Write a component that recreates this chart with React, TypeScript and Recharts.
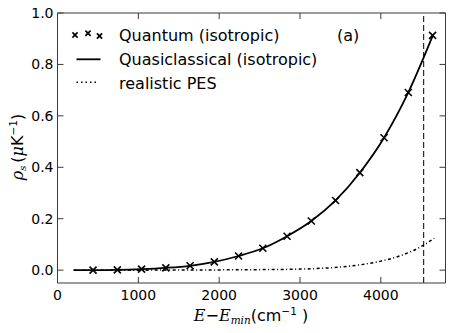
import React from 'react';
import { ComposedChart, Line, Scatter, XAxis, YAxis, ReferenceLine } from 'recharts';

const quantumE = [440, 740, 1040, 1340, 1640, 1940, 2240, 2540, 2840, 3140, 3440, 3740, 4040, 4340, 4640];
const quantumRho = [0.0, 0.001, 0.004, 0.009, 0.017, 0.032, 0.055, 0.085, 0.132, 0.191, 0.271, 0.379, 0.515, 0.691, 0.913];

const classicalE = [200, 440, 740, 1040, 1340, 1640, 1940, 2240, 2540, 2840, 3140, 3440, 3740, 4040, 4340, 4640];
const classicalRho = [0.0, 0.0, 0.001, 0.004, 0.009, 0.017, 0.032, 0.055, 0.085, 0.132, 0.191, 0.271, 0.379, 0.515, 0.691, 0.91];

const pesE = [200, 1000, 1500, 2000, 2500, 3000, 3250, 3500, 3750, 4000, 4250, 4500, 4660];
const pesRho = [0.0, 0.0, 0.0005, 0.001, 0.002, 0.004, 0.007, 0.012, 0.021, 0.035, 0.057, 0.092, 0.124];

const xTicks = [0, 1000, 2000, 3000, 4000];
const yTicks = [0.0, 0.2, 0.4, 0.6, 0.8, 1.0];
const xDomain = [0, 4800];
const yDomain = [-0.05, 1.0];
const thresholdE = 4530;

const legendLabels = ['Quantum (isotropic)', 'Quasiclassical (isotropic)', 'realistic PES'];
const panelLabel = '(a)';

const quantumData = quantumE.map((e, i) => ({ e, rho: quantumRho[i] }));
const classicalData = classicalE.map((e, i) => ({ e, rho: classicalRho[i] }));
const pesData = pesE.map((e, i) => ({ e, rho: pesRho[i] }));

const FONT = '"DejaVu Sans", sans-serif';
const SERIF = '"DejaVu Serif", serif';
const AXIS = '#3a3a3a';

const MARGIN = { top: 13, right: 5.5, bottom: 0, left: 0 };
const CHART_W = 451;
const CHART_H = 333;
const Y_AXIS_W = 57.5;
const X_AXIS_H = 50;

// plot area derived from the layout constants above
const PX0 = MARGIN.left + Y_AXIS_W;
const PY0 = MARGIN.top;
const PW = CHART_W - MARGIN.left - MARGIN.right - Y_AXIS_W;
const PH = CHART_H - MARGIN.top - MARGIN.bottom - X_AXIS_H;
const sx = (v: number) => PX0 + ((v - xDomain[0]) / (xDomain[1] - xDomain[0])) * PW;
const sy = (v: number) => PY0 + PH - ((v - yDomain[0]) / (yDomain[1] - yDomain[0])) * PH;

const XMark = (props: any) => {
  const { cx, cy } = props;
  if (cx == null || cy == null) return null;
  const s = 3.5;
  return (
    <g stroke="#000" strokeWidth={1.6}>
      <line x1={cx - s} y1={cy - s} x2={cx + s} y2={cy + s} />
      <line x1={cx - s} y1={cy + s} x2={cx + s} y2={cy - s} />
    </g>
  );
};

const smallX = (x: number, y: number, key: string) => {
  const s = 2.6;
  return (
    <g key={key} stroke="#000" strokeWidth={1.7}>
      <line x1={x - s} y1={y - s} x2={x + s} y2={y + s} />
      <line x1={x - s} y1={y + s} x2={x + s} y2={y - s} />
    </g>
  );
};

export default function App() {
  return (
    <div style={{ position: 'absolute', left: 0, top: 0, width: CHART_W, height: CHART_H, background: '#fff' }}>
      <ComposedChart width={CHART_W} height={CHART_H} margin={MARGIN}>
        <XAxis
          xAxisId="b"
          type="number"
          dataKey="e"
          domain={xDomain}
          ticks={xTicks}
          allowDataOverflow
          height={X_AXIS_H}
          stroke={AXIS}
          tickSize={-6}
          tickMargin={13}
          tick={{ fill: '#000', fontSize: 14, fontFamily: FONT }}
          axisLine={{ stroke: AXIS, strokeWidth: 1 }}
          tickLine={{ stroke: AXIS }}
        />
        <YAxis
          yAxisId="l"
          type="number"
          domain={yDomain}
          ticks={yTicks}
          allowDataOverflow
          width={Y_AXIS_W}
          stroke={AXIS}
          tickSize={-6}
          tickMargin={10}
          tickFormatter={(v: number) => v.toFixed(1)}
          tick={{ fill: '#000', fontSize: 14, fontFamily: FONT }}
          axisLine={{ stroke: AXIS, strokeWidth: 1 }}
          tickLine={{ stroke: AXIS }}
        />
        <ReferenceLine
          xAxisId="b"
          yAxisId="l"
          x={thresholdE}
          stroke="#000"
          strokeWidth={1}
          strokeDasharray="6 3"
        />
        <Line
          xAxisId="b"
          yAxisId="l"
          data={pesData}
          dataKey="rho"
          type="monotone"
          stroke="#000"
          strokeWidth={1.5}
          strokeDasharray="3 2.5 1 2.5"
          dot={false}
          isAnimationActive={false}
        />
        <Line
          xAxisId="b"
          yAxisId="l"
          data={classicalData}
          dataKey="rho"
          type="monotone"
          stroke="#000"
          strokeWidth={1.8}
          dot={false}
          isAnimationActive={false}
        />
        <Scatter
          xAxisId="b"
          yAxisId="l"
          data={quantumData}
          dataKey="rho"
          shape={XMark}
          isAnimationActive={false}
        />
        <g>
          <g stroke={AXIS} strokeWidth={1} fill="none">
            <line x1={PX0} y1={PY0} x2={PX0 + PW} y2={PY0} />
            <line x1={PX0 + PW} y1={PY0} x2={PX0 + PW} y2={PY0 + PH} />
            {xTicks.map((t) => (
              <line key={`tx${t}`} x1={sx(t)} y1={PY0} x2={sx(t)} y2={PY0 + 6} />
            ))}
            {yTicks.map((t) => (
              <line key={`ty${t}`} x1={PX0 + PW} y1={sy(t)} x2={PX0 + PW - 6} y2={sy(t)} />
            ))}
          </g>
          {smallX(75, 35, 'a')}
          {smallX(88, 33.3, 'b')}
          {smallX(99.5, 36, 'c')}
          <line x1={76.5} y1={59.3} x2={100.5} y2={59.3} stroke="#000" strokeWidth={1.8} />
          <line x1={76.5} y1={82.3} x2={96} y2={82.3} stroke="#000" strokeWidth={1.5} strokeDasharray="1.5 3" />
          <text x={119} y={40.5} fontSize={16} fontFamily={FONT} fill="#000">{legendLabels[0]}</text>
          <text x={119} y={65} fontSize={16} fontFamily={FONT} fill="#000">{legendLabels[1]}</text>
          <text x={119} y={88.5} fontSize={16} fontFamily={FONT} fill="#000">{legendLabels[2]}</text>
          <text x={337} y={40.5} fontSize={16} fontFamily={FONT} fill="#000">{panelLabel}</text>
          <text
            transform="translate(23,147) rotate(-90)"
            textAnchor="middle"
            fontSize={16}
            fontFamily={FONT}
            fill="#000"
          >
            <tspan fontFamily={SERIF} fontStyle="italic">ρ</tspan>
            <tspan fontSize={10} dy={3} fontFamily={SERIF} fontStyle="italic">s</tspan>
            <tspan dy={-3} dx={3}>(</tspan>
            <tspan fontFamily={SERIF} fontStyle="italic">μ</tspan>
            <tspan>K</tspan>
            <tspan fontSize={10.5} dy={-6}>−1</tspan>
            <tspan dy={6}>)</tspan>
          </text>
          <text x={251} y={321} textAnchor="middle" fontSize={16} fontFamily={FONT} fill="#000">
            <tspan fontFamily={SERIF} fontStyle="italic">E</tspan>
            <tspan>−</tspan>
            <tspan fontFamily={SERIF} fontStyle="italic">E</tspan>
            <tspan fontSize={10.5} dy={3} fontFamily={SERIF} fontStyle="italic">min</tspan>
            <tspan dy={-3}>(cm</tspan>
            <tspan fontSize={10.5} dy={-6}>−1</tspan>
            <tspan dy={6}> )</tspan>
          </text>
        </g>
      </ComposedChart>
    </div>
  );
}
